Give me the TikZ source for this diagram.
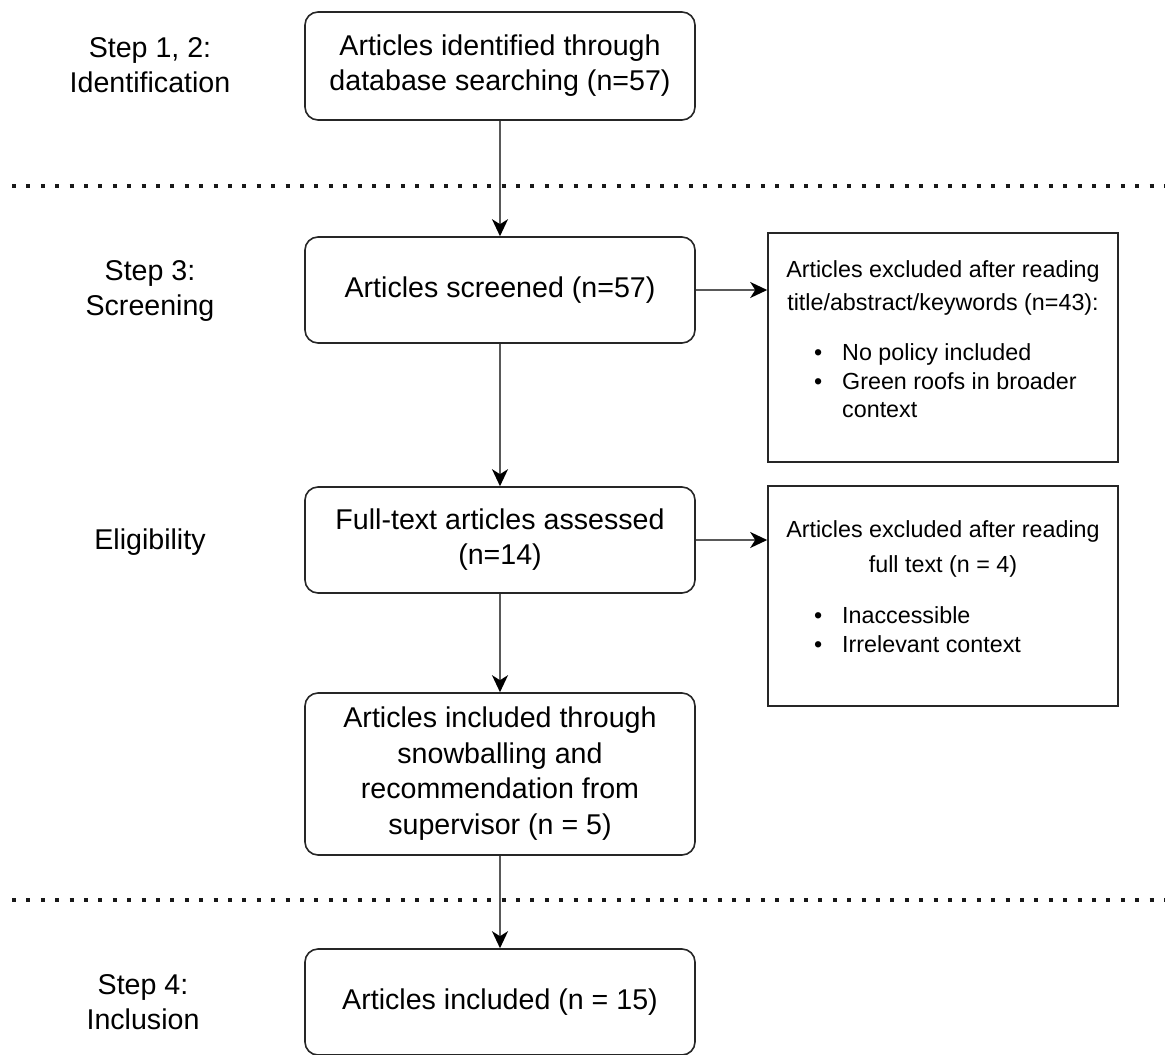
\documentclass[tikz,border=0pt]{standalone}
\usepackage{fontspec}
\setmainfont{Liberation Sans}
\usetikzlibrary{arrows.meta}
% centred lines with even strut spacing
\newcommand{\boxlines}[1]{\begin{tabular}{@{}c@{}}#1\end{tabular}}
\begin{document}
\begin{tikzpicture}[x=1pt,y=-1pt,
  mainbox/.style={draw=black!85, line width=1.6pt, rounded corners=13pt,
    minimum width=390pt, inner sep=0pt,
    font=\fontsize{28.6}{35.5}\selectfont},
  sidebox/.style={draw=black!85, line width=1.6pt, minimum width=350pt, inner sep=0pt},
  sidetext/.style={inner sep=0pt, font=\fontsize{23.3}{28}\selectfont},
  steplabel/.style={inner sep=0pt, font=\fontsize{28.6}{35.5}\selectfont},
  flow/.style={draw=black!65, line width=1.8pt,
    -{Stealth[length=17pt,width=16pt,inset=5pt,black]}},
  divider/.style={draw=black!90, line width=4pt, dash pattern=on 4pt off 10.4pt}
]
\useasboundingbox (0,0) rectangle (1165,1055);

% stage labels
\node[steplabel] (lab1) at (150,68) {\boxlines{Step 1, 2:\\Identification}};
\node[steplabel] (lab2) at (150,291) {\boxlines{Step 3:\\Screening}};
\node[steplabel] (lab3) at (150,542) {\boxlines{Eligibility}};
\node[steplabel] (lab4) at (143,1005) {\boxlines{Step 4:\\Inclusion}};

% stage separators
\coordinate (d1a) at (12,186);
\coordinate (d1b) at (1165,186);
\coordinate (d2a) at (12,900);
\coordinate (d2b) at (1165,900);
\draw[divider] (d1a) -- (d1b);
\draw[divider] (d2a) -- (d2b);

% main flow
\node[mainbox, minimum height=108pt] (ident) at (500,66)
  {\boxlines{Articles identified through\\database searching (n=57)}};
\node[mainbox, minimum height=106pt] (screen) at (500,290)
  {\boxlines{Articles screened (n=57)}};
\node[mainbox, minimum height=106pt] (full) at (500,540)
  {\boxlines{Full-text articles assessed\\(n=14)}};
\node[mainbox, minimum height=162pt] (snow) at (500,774)
  {\boxlines{Articles included through\\snowballing and\\recommendation from\\supervisor (n = 5)}};
\node[mainbox, minimum height=106pt] (incl) at (500,1002)
  {\boxlines{Articles included (n = 15)}};

% exclusion boxes
\node[sidebox, minimum height=229pt] (excl1) at (943,347.5) {};
\node[sidetext, anchor=base] (e1a) at (943,277) {Articles excluded after reading};
\node[sidetext, anchor=base] (e1b) at (943,310) {title/abstract/keywords (n=43):};
\node[sidetext, anchor=base west] (e1c) at (814,360) {\makebox[28pt][l]{•}No policy included};
\node[sidetext, anchor=base west] (e1d) at (814,389) {\makebox[28pt][l]{•}Green roofs in broader};
\node[sidetext, anchor=base west] (e1e) at (842,417) {context};

\node[sidebox, minimum height=220pt] (excl2) at (943,596) {};
\node[sidetext, anchor=base] (e2a) at (943,537) {Articles excluded after reading};
\node[sidetext, anchor=base] (e2b) at (943,572) {full text (n = 4)};
\node[sidetext, anchor=base west] (e2c) at (814,623) {\makebox[28pt][l]{•}Inaccessible};
\node[sidetext, anchor=base west] (e2d) at (814,652) {\makebox[28pt][l]{•}Irrelevant context};

% connectors
\draw[flow] (ident) -- (screen);
\draw[flow] (screen) -- (full);
\draw[flow] (full) -- (snow);
\draw[flow] (snow) -- (incl);
\draw[flow] (screen.east) -- (screen.east -| excl1.west);
\draw[flow] (full.east) -- (full.east -| excl2.west);
\end{tikzpicture}
\end{document}
